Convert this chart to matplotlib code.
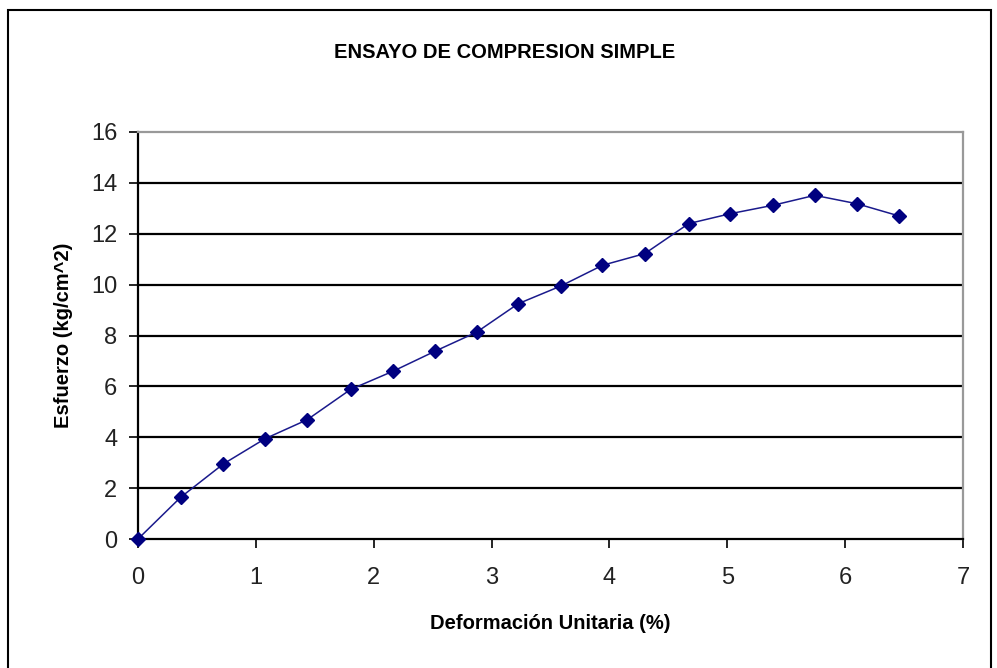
import matplotlib
matplotlib.use("Agg")
import matplotlib.pyplot as plt
from matplotlib.patches import Rectangle

deformacion = [0.0, 0.362, 0.724, 1.077, 1.436, 1.804, 2.166, 2.519, 2.873, 3.226,
               3.585, 3.941, 4.30, 4.673, 5.027, 5.389, 5.742, 6.10, 6.457]
esfuerzo = [0.0, 1.64, 2.95, 3.94, 4.69, 5.88, 6.60, 7.38, 8.13, 9.25,
            9.94, 10.76, 11.22, 12.40, 12.79, 13.12, 13.51, 13.18, 12.70]
x_ticks = [0, 1, 2, 3, 4, 5, 6, 7]
y_ticks = [0, 2, 4, 6, 8, 10, 12, 14, 16]

plt.rcParams['font.family'] = ['Liberation Sans', 'DejaVu Sans']

fig = plt.figure(figsize=(9.97, 6.68), dpi=100)
ax = fig.add_axes([138/997, 1-539/668, (963-138)/997, (539-132)/668])

for y in y_ticks[1:-1]:
    ax.axhline(y, color='black', lw=1.6, zorder=1)

ax.plot(deformacion, esfuerzo, color='#1a1a8c', lw=1.1, marker='D', markersize=7.5,
        markerfacecolor='#000080', markeredgecolor='#000080', zorder=3, clip_on=False)

ax.set_xlim(0, 7)
ax.set_ylim(0, 16)
ax.set_xticks(x_ticks)
ax.set_yticks(y_ticks)
ax.tick_params(direction='out', length=6.5, width=1.2, labelsize=17, colors='black')
ax.tick_params(axis='y', pad=8.5)
ax.tick_params(axis='x', pad=14)
for lbl in ax.get_xticklabels() + ax.get_yticklabels():
    lbl.set_color('#222222')
for s in ['left', 'bottom']:
    ax.spines[s].set_color('black')
    ax.spines[s].set_linewidth(1.6)
for s in ['top', 'right']:
    ax.spines[s].set_color('#999999')
    ax.spines[s].set_linewidth(1.6)

ax.set_xlabel('Deformación Unitaria (%)', fontsize=14.5, fontweight='bold', labelpad=18)
ax.set_ylabel('Esfuerzo (kg/cm^2)', fontsize=14.5, fontweight='bold', labelpad=13)
fig.text(505/997, 1-53/668, 'ENSAYO DE COMPRESION SIMPLE', ha='center', va='center',
         fontsize=14.5, fontweight='bold')

fig.patches.append(Rectangle((8/997, -0.05), (991-8)/997, 1.05-10/668, transform=fig.transFigure,
                             fill=False, edgecolor='black', lw=1.5))

fig.savefig('out.png', dpi=100)
